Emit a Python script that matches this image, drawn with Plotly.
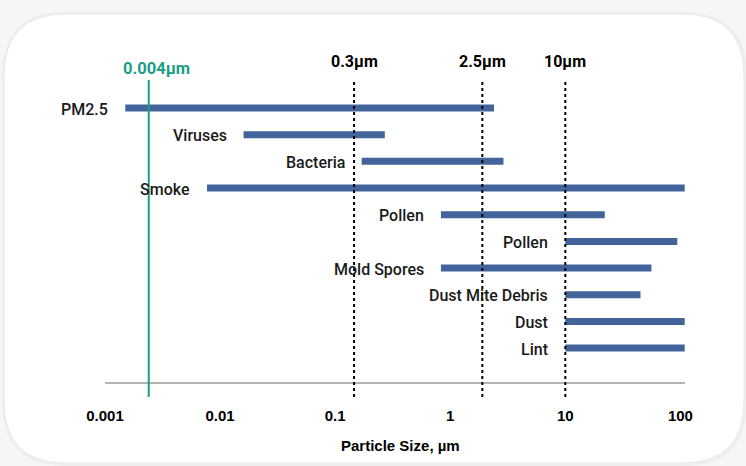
import math
import plotly.graph_objects as go

# ---- data ----
categories = ["PM2.5", "Viruses", "Bacteria", "Smoke", "Pollen", "Pollen",
              "Mold Spores", "Dust Mite Debris", "Dust", "Lint"]
size_min = [0.0015, 0.016, 0.17, 0.0077, 0.83, 10, 0.83, 10, 10, 10]
size_max = [2.4, 0.27, 2.9, 109, 22, 94, 56, 45, 109, 109]

ref_values = [0.0024, 0.146, 1.9, 10]
ref_labels = ["0.004µm", "0.3µm", "2.5µm", "10µm"]

tick_values = [0.001, 0.01, 0.1, 1, 10, 100]
tick_labels = ["0.001", "0.01", "0.1", "1", "10", "100"]
x_title = "Particle Size, µm"

# ---- layout constants ----
W, H = 746, 466
L, R, T, B = 105, 61, 80, 84
PW, PH = W - L - R, H - T - B
BAR_COLOR = "#42649a"
GREEN = "#1a9e86"


def px(p):
    return (p - L) / PW


def py(p):
    return (H - B - p) / PH


def rounded_rect(x0, y0, x1, y1, r):
    pts = [
        f"M {px(x0 + r)},{py(y0)}",
        f"L {px(x1 - r)},{py(y0)}",
        f"Q {px(x1)},{py(y0)} {px(x1)},{py(y0 + r)}",
        f"L {px(x1)},{py(y1 - r)}",
        f"Q {px(x1)},{py(y1)} {px(x1 - r)},{py(y1)}",
        f"L {px(x0 + r)},{py(y1)}",
        f"Q {px(x0)},{py(y1)} {px(x0)},{py(y1 - r)}",
        f"L {px(x0)},{py(y0 + r)}",
        f"Q {px(x0)},{py(y0)} {px(x0 + r)},{py(y0)}",
        "Z",
    ]
    return " ".join(pts)


xs, ys = [], []
for i, (a, b) in enumerate(zip(size_min, size_max)):
    xs += [a, b, None]
    ys += [i, i, None]

fig = go.Figure()
fig.add_trace(go.Scatter(x=xs, y=ys, mode="lines",
                         line=dict(color=BAR_COLOR, width=7),
                         hoverinfo="skip", showlegend=False))

shapes = [
    dict(type="path", xref="paper", yref="paper", layer="below",
         path=rounded_rect(2, 12, 747, 466, 64),
         fillcolor="#eeeeee", line=dict(width=0)),
    dict(type="path", xref="paper", yref="paper", layer="below",
         path=rounded_rect(4, 14, 744, 463, 62),
         fillcolor="white", line=dict(color="#e9e9e9", width=1)),
]
annotations = []
for v, lab in zip(ref_values, ref_labels):
    is_green = lab == ref_labels[0]
    shapes.append(dict(type="line", xref="x", yref="paper",
                       x0=v, x1=v, y0=py(397), y1=py(80),
                       line=dict(color=GREEN if is_green else "black",
                                 width=2,
                                 dash="solid" if is_green else "dot")))
    annotations.append(dict(x=math.log10(v), xref="x", yref="paper",
                            y=py(68) if is_green else py(62),
                            yanchor="middle", xanchor="center",
                            xshift=8 if is_green else 0,
                            text=f"<b>{lab}</b>", showarrow=False,
                            font=dict(family="Roboto", size=16.5 if is_green else 16,
                                      color=GREEN if is_green else "black")))

for i, (cat, a) in enumerate(zip(categories, size_min)):
    annotations.append(dict(x=math.log10(a), y=i, xref="x", yref="y", text=cat,
                            showarrow=False, xanchor="right", yanchor="middle",
                            xshift=-15, yshift=-1,
                            font=dict(family="Roboto", size=16, weight=500,
                                      color="#1a1a1a")))

annotations.append(dict(x=px(400), y=py(445), xref="paper", yref="paper",
                        xanchor="center", yanchor="middle",
                        text=f"<b>{x_title}</b>", showarrow=False,
                        font=dict(family="Liberation Sans", size=15, color="black")))

fig.update_layout(
    width=W, height=H,
    margin=dict(l=L, r=R, t=T, b=B),
    paper_bgcolor="#f6f6f6",
    plot_bgcolor="rgba(0,0,0,0)",
    shapes=shapes,
    annotations=annotations,
    showlegend=False,
    xaxis=dict(type="log", range=[-3, 2.04], tickvals=tick_values,
               ticktext=[f"<b>{t}</b>" for t in tick_labels],
               showgrid=False, zeroline=False,
               showline=True, linecolor="#b3b3b3", linewidth=2,
               ticks="", ticklabelstandoff=19,
               tickfont=dict(family="Liberation Sans", size=15, color="black")),
    yaxis=dict(range=[10.27, -1.05], showgrid=False, zeroline=False,
               showticklabels=False, showline=False),
)

fig.write_html("out.html", config={"displayModeBar": False},
               post_script="document.body.style.margin='0';")
